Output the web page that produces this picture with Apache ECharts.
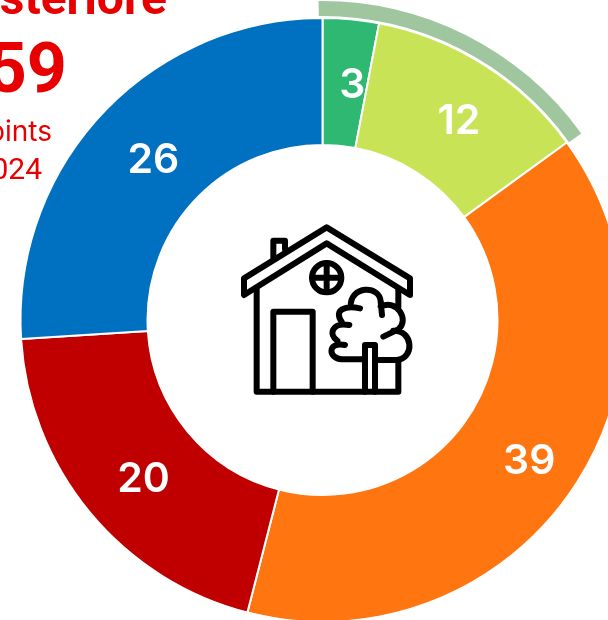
<!DOCTYPE html>
<html>
<head>
<meta charset="utf-8">
<style>
  html, body { margin: 0; padding: 0; background: #fff; overflow: hidden; }
  #chart { width: 608px; height: 620px; }
</style>
<script src="https://cdn.jsdelivr.net/npm/echarts@6/dist/echarts.min.js"></script>
</head>
<body>
<div id="chart"></div>
<script>
const categories = ['a', 'b', 'c', 'd', 'e'];
const values = [3, 12, 39, 20, 26];
const colors = ['#2EB872', '#C8E355', '#FF7510', '#C00000', '#0070C0'];
// the top band covers the first two slices, it starts a little before them
const bandValues = [15.25, 84.75];
const red = '#E80000';

const myChart = echarts.init(document.getElementById('chart'));

function line(d) {
    return { type: 'path', shape: { pathData: d }, style: { fill: null, stroke: '#000', lineWidth: 18, lineJoin: 'round', lineCap: 'round' } };
}

function text(right, y, str, size, weight, family) {
    return {
        type: 'text', x: right, y: y,
        style: { text: str, fill: red, font: weight + ' ' + size + 'px ' + (family || 'Roboto'), textAlign: 'right', textVerticalAlign: 'bottom' }
    };
}

// house icon, coordinates are in 3x units
function renderHouse() {
    return {
        type: 'group', x: 230, y: 210, scaleX: 1 / 3, scaleY: 1 / 3,
        children: [
            // roof
            line('M290 52 L540 205 L540 255 L290 100 L42 255 L42 205 Z'),
            // chimney
            line('M130 145 L130 92 L165 92 L165 118'),
            // walls and ground
            line('M80 235 L80 545 L505 545 L505 455 M505 240 L505 290'),
            // door
            line('M130 545 L130 305 L248 305 L248 545'),
            // window
            { type: 'circle', shape: { cx: 290, cy: 203, r: 44 }, style: { fill: null, stroke: '#000', lineWidth: 18 } },
            line('M290 160 L290 246 M247 203 L333 203'),
            // tree trunk
            line('M405 545 L405 405 L435 405 L435 545'),
            // tree crown
            line('M400 448 L335 448 C295 445 290 395 345 405 M322 392 C295 375 305 335 358 345 M335 335 C310 300 345 285 390 295 M362 290 C360 225 450 225 452 275 L456 315 M452 290 C500 265 540 330 505 358 L460 380 M490 362 C550 360 555 445 500 450 L435 450')
        ]
    };
}

const option = {
    animation: false,
    series: [
        {
            type: 'pie',
            center: [322.5, 320],
            radius: [175, 302],
            startAngle: 90,
            clockwise: true,
            data: categories.map((name, i) => ({ name, value: values[i], itemStyle: { color: colors[i] } })),
            itemStyle: { borderColor: '#fff', borderWidth: 2 },
            label: { position: 'inside', formatter: '{c}', color: '#fff', fontFamily: 'Inter', fontWeight: 600, fontSize: 41 },
            labelLayout: { dx: 7, dy: 6 },
            labelLine: { show: false },
            silent: true
        },
        {
            type: 'pie',
            center: [322.5, 320],
            radius: [304, 319],
            startAngle: 90.7,
            data: [
                { value: bandValues[0], itemStyle: { color: '#A0C6A0' } },
                { value: bandValues[1], itemStyle: { color: 'transparent' } }
            ],
            label: { show: false },
            labelLine: { show: false },
            silent: true
        },
        {
            type: 'custom',
            coordinateSystem: 'none',
            data: [0],
            renderItem: renderHouse,
            silent: true
        }
    ],
    graphic: [
        text(167, 26, 'Esteriore', 48, 'bold'),
        text(67, 109, '159', 70, 'bold'),
        text(52, 147, 'Points', 28, 'normal', 'Inter'),
        text(42, 186, '2024', 30, 'normal')
    ]
};

myChart.setOption(option);
</script>
</body>
</html>
